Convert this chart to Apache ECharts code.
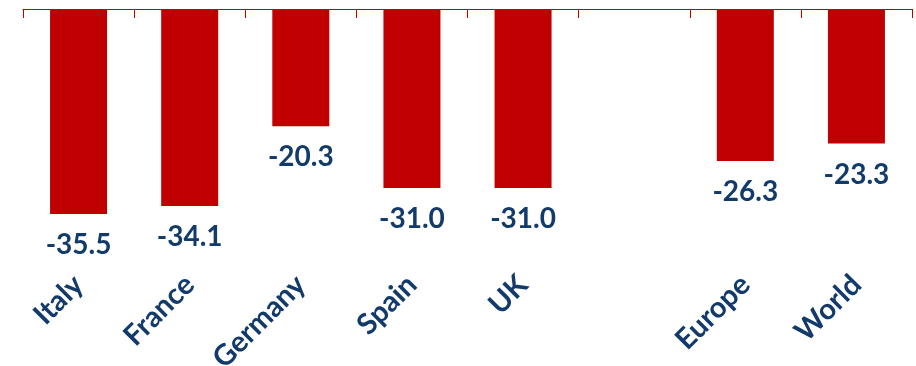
<!DOCTYPE html>
<html>
<head>
<meta charset="utf-8">
<script src="https://cdn.jsdelivr.net/npm/echarts@6/dist/echarts.min.js"></script>
<style>
  html, body { margin: 0; padding: 0; background: #fff; }
  #main { width: 916px; height: 366px; }
</style>
</head>
<body>
<div id="main"></div>
<script>
// categories (one empty slot between UK and Europe)
var categories = ["Italy", "France", "Germany", "Spain", "UK", "", "Europe", "World"];
var values = [-35.5, -34.1, -20.3, -31.0, -31.0, null, -26.3, -23.3];

var red = "#C00000";
var navy = "#123A6B";
var font = "Lato";

var myChart = echarts.init(document.getElementById("main"));

myChart.setOption({
  backgroundColor: "#fff",
  animation: false,
  grid: {
    left: 23,
    right: 4,
    top: 9,
    height: 231,
    containLabel: false,
    outerBoundsMode: "none" // don't shrink the grid for the long labels
  },
  xAxis: [
    {
      // top axis line with ticks pointing down
      type: "category",
      position: "top",
      data: categories,
      axisLine: { onZero: false, lineStyle: { color: red, width: 1 } },
      axisTick: { show: true, inside: true, length: 9, lineStyle: { color: red, width: 1 } },
      axisLabel: { show: false }
    },
    {
      // labels sit low, below the bars
      type: "category",
      position: "bottom",
      data: categories,
      axisLine: { show: false, onZero: false },
      axisTick: { show: false },
      axisLabel: {
        rotate: 45,
        margin: 40,
        interval: 0,
        color: navy,
        fontFamily: font,
        fontWeight: "bold",
        fontSize: 29
      }
    }
  ],
  yAxis: { type: "value", min: -40, max: 0, show: false },
  series: [
    {
      type: "bar",
      data: values,
      barWidth: 57,
      itemStyle: { color: red },
      label: {
        show: true,
        position: "bottom",
        distance: 17,
        color: navy,
        fontFamily: font,
        fontWeight: "bold",
        fontSize: 28,
        lineHeight: 28,
        formatter: function (p) {
          return p.value.toFixed(1);
        }
      }
    }
  ]
});
</script>
</body>
</html>
